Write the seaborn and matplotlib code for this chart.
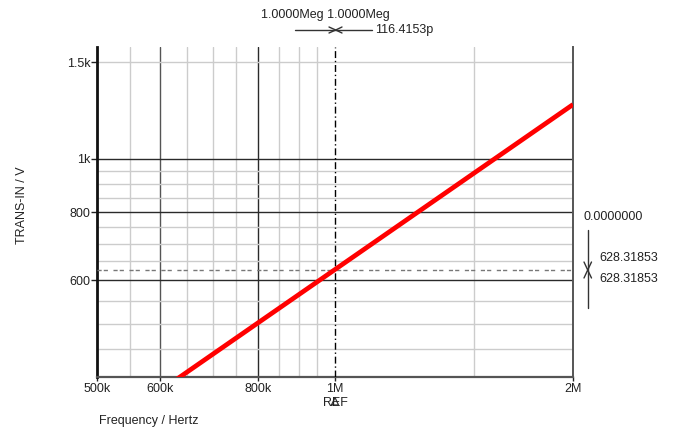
import matplotlib
matplotlib.use("Agg")
import matplotlib.pyplot as plt
from matplotlib.lines import Line2D
import seaborn as sns
import pandas as pd

# ---- data ----
freq_hz = [500e3, 600e3, 800e3, 1e6, 1.5e6, 2e6]
trans_in = [314.2, 377.0, 502.7, 628.3, 942.5, 1256.6]

x_major = [500e3, 600e3, 800e3, 1e6, 2e6]
x_major_labels = ["500k", "600k", "800k", "1M", "2M"]
x_minor = [550e3, 650e3, 700e3, 750e3, 850e3, 900e3, 950e3, 1.5e6]
y_major = [600, 800, 1000, 1500]
y_major_labels = ["600", "800", "1k", "1.5k"]
y_minor = [450, 500, 550, 650, 700, 750, 850, 900, 950]

cursor_x = 1e6
cursor_y = 628.31853

sns.set_style("white")
plt.rcParams['font.family'] = ['Liberation Sans', 'DejaVu Sans']
plt.rcParams['font.size'] = 9

W, H = 678, 432
fig = plt.figure(figsize=(W / 100, H / 100), dpi=100)
ax = fig.add_axes([97 / W, 1 - 377 / H, (573 - 97) / W, (377 - 47) / H])

df = pd.DataFrame({"f": freq_hz, "v": trans_in})
sns.lineplot(data=df, x="f", y="v", ax=ax, color="#ff0000", linewidth=3.4,
             zorder=5, solid_capstyle="butt")

ax.set_xscale("log")
ax.set_yscale("log")
ax.set_xlim(500e3, 2e6)
ax.set_ylim(400, 1600)

ax.set_xticks(x_major)
ax.set_xticklabels(x_major_labels)
ax.set_xticks(x_minor, minor=True)
ax.set_yticks(y_major)
ax.set_yticklabels(y_major_labels)
ax.set_yticks(y_minor, minor=True)
ax.xaxis.set_minor_formatter(matplotlib.ticker.NullFormatter())
ax.yaxis.set_minor_formatter(matplotlib.ticker.NullFormatter())

ax.tick_params(axis="x", which="major", length=3, width=1, pad=1.5,
               colors="#222222", direction="out", bottom=True)
ax.tick_params(axis="y", which="major", length=4, width=1, pad=0.5,
               colors="#222222", direction="out", left=True)
ax.tick_params(which="minor", length=0)

ax.grid(True, which="major", color="#2a2a2a", linewidth=1.0)
ax.grid(True, which="minor", color="#cccccc", linewidth=1.0)
ax.set_axisbelow(True)

# per-gridline tweaks: no solid line at cursor (1M) and light line at 1.5k
for val, gl in zip(x_major, ax.xaxis.get_gridlines()):
    if val == 1e6 or val == 500e3 or val == 2e6:
        gl.set_visible(False)
    if val == 600e3:
        gl.set_color("#555555")
for val, gl in zip(y_major, ax.yaxis.get_gridlines()):
    if val == 1500:
        gl.set_color("#cccccc")

ax.spines["top"].set_visible(False)
ax.spines["left"].set_color("#111111")
ax.spines["left"].set_linewidth(2.0)
ax.spines["bottom"].set_color("#555555")
ax.spines["bottom"].set_linewidth(1.6)
ax.spines["right"].set_color("#555555")
ax.spines["right"].set_linewidth(1.4)

# cursor lines
ax.axvline(cursor_x, color="black", linewidth=1.0, linestyle=(0, (5, 2, 1, 2)), zorder=4)
ax.axhline(cursor_y, color="#777777", linewidth=1.0, linestyle=(0, (3, 1.5, 3, 4)), zorder=4)

ax.set_xlabel("")
ax.set_ylabel("")


def fline(xs, ys, color="#333333", lw=1.0):
    fig.add_artist(Line2D([x / W for x in xs], [1 - y / H for y in ys],
                          transform=fig.transFigure, color=color, linewidth=lw))


# axis titles
fig.text(22 / W, 1 - 205 / H, "TRANS-IN / V", rotation=90, ha="center", va="center",
         color="#222222", fontsize=9)
fig.text(99 / W, 1 - 421 / H, "Frequency / Hertz", ha="left", va="center",
         color="#222222", fontsize=9)
fig.text(335 / W, 1 - 403 / H, "REF", ha="center", va="center", color="#222222", fontsize=9)
# delta marker drawn over the E of REF (as in the reference)
fline([331.5, 335, 338.5, 331.5], [405, 397.5, 405, 405], color="#333333", lw=0.9)

# top cursor readout
fig.text(325 / W, 1 - 15 / H, "1.0000Meg 1.0000Meg", ha="center", va="center",
         color="#222222", fontsize=9)
fig.text(375 / W, 1 - 30 / H, "116.4153p", ha="left", va="center",
         color="#222222", fontsize=9)

fline([295, 372], [30, 30])
fline([329, 335.7, 329], [27, 30, 33])
fline([342, 335.7, 342], [27, 30, 33])

# right cursor readout
fig.text(583 / W, 1 - 216.5 / H, "0.0000000", ha="left", va="center",
         color="#222222", fontsize=9)
fig.text(599 / W, 1 - 258 / H, "628.31853", ha="left", va="center",
         color="#222222", fontsize=9)
fig.text(599 / W, 1 - 279 / H, "628.31853", ha="left", va="center",
         color="#222222", fontsize=9)
fline([587.7, 587.7], [230, 308])
fline([584, 587.7, 591.5], [262, 270, 262])
fline([584, 587.7, 591.5], [278, 270, 278])

fig.savefig("out.png", dpi=100)
